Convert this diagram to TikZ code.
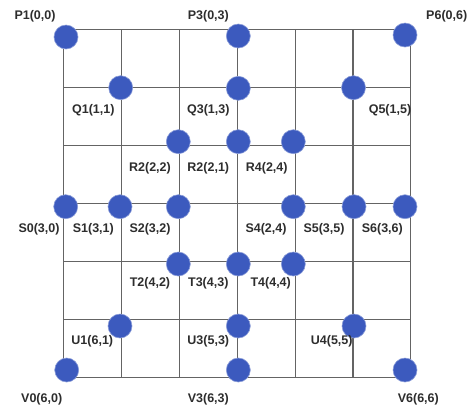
\documentclass[tikz,border=0pt]{standalone}
\usepackage{fontspec}
\setmainfont{Liberation Sans}
\definecolor{dotblue}{RGB}{60,90,190}
\definecolor{gridgray}{RGB}{100,100,100}
\definecolor{labelgray}{RGB}{45,45,45}
\begin{document}
\begin{tikzpicture}[x=1bp,y=-1bp,
  dot/.style={circle,fill=dotblue,draw=dotblue!60,line width=0.6bp,inner sep=0pt,minimum size=24bp},
  lbl/.style={text=labelgray,font=\fontsize{12.5bp}{14bp}\selectfont\bfseries,inner sep=0pt},
  gridline/.style={draw=gridgray,line width=1.1bp}]
\useasboundingbox (0,0) rectangle (473,409);
% grid
\foreach \i in {0,...,6}{
  \pgfmathsetmacro{\xx}{63.5+57.9*\i}
  \pgfmathsetmacro{\yy}{29.3+58.07*\i}
  \draw[gridline] (\xx,29.3) -- (\xx,377.7);
  \draw[gridline] (63.5,\yy) -- (411,\yy);
}
% dots
\node[dot] (P1) at (66,37) {};
\node[dot] (P3) at (238.3,36) {};
\node[dot] (P6) at (405,35) {};
\node[dot] (Q1) at (120.7,87.7) {};
\node[dot] (Q3) at (238.3,88.3) {};
\node[dot] (Q5) at (353.5,87.7) {};
\node[dot] (R2a) at (178.3,141.7) {};
\node[dot] (R2b) at (238.3,141.7) {};
\node[dot] (R4) at (293.3,141.7) {};
\node[dot] (S0) at (65.7,206.7) {};
\node[dot] (S1) at (120,206.7) {};
\node[dot] (S2) at (178.3,206.7) {};
\node[dot] (S4) at (293.3,206.7) {};
\node[dot] (S5) at (354,206.7) {};
\node[dot] (S6) at (405,206.7) {};
\node[dot] (T2) at (178.3,264) {};
\node[dot] (T3) at (238.3,264) {};
\node[dot] (T4) at (293.3,264) {};
\node[dot] (U1) at (120,326) {};
\node[dot] (U3) at (238.3,326) {};
\node[dot] (U4) at (354,326) {};
\node[dot] (V0) at (66.7,370) {};
\node[dot] (V3) at (238.3,370) {};
\node[dot] (V6) at (405,370) {};
% labels
\node[lbl] (lP1) at (35,16) {P1(0,0)};
\node[lbl] (lP3) at (208.3,16) {P3(0,3)};
\node[lbl] (lP6) at (446.7,16) {P6(0,6)};
\node[lbl] (lQ1) at (93.3,110) {Q1(1,1)};
\node[lbl] (lQ3) at (208.3,110) {Q3(1,3)};
\node[lbl] (lQ5) at (390,110) {Q5(1,5)};
\node[lbl] (lR2a) at (150,168) {R2(2,2)};
\node[lbl] (lR2b) at (208.3,168) {R2(2,1)};
\node[lbl] (lR4) at (266.7,168) {R4(2,4)};
\node[lbl] (lS0) at (39,229) {S0(3,0)};
\node[lbl] (lS1) at (93.3,229) {S1(3,1)};
\node[lbl] (lS2) at (150,229) {S2(3,2)};
\node[lbl] (lS4) at (266,229) {S4(2,4)};
\node[lbl] (lS5) at (324,229) {S5(3,5)};
\node[lbl] (lS6) at (382.3,229) {S6(3,6)};
\node[lbl] (lT2) at (150,283.3) {T2(4,2)};
\node[lbl] (lT3) at (208.3,283.3) {T3(4,3)};
\node[lbl] (lT4) at (270.7,283.3) {T4(4,4)};
\node[lbl] (lU1) at (92.3,341.7) {U1(6,1)};
\node[lbl] (lU3) at (208.3,341.7) {U3(5,3)};
\node[lbl] (lU4) at (331.7,341.7) {U4(5,5)};
\node[lbl] (lV0) at (41.7,399.3) {V0(6,0)};
\node[lbl] (lV3) at (208.3,399.3) {V3(6,3)};
\node[lbl] (lV6) at (418.3,399.3) {V6(6,6)};
\end{tikzpicture}
\end{document}
